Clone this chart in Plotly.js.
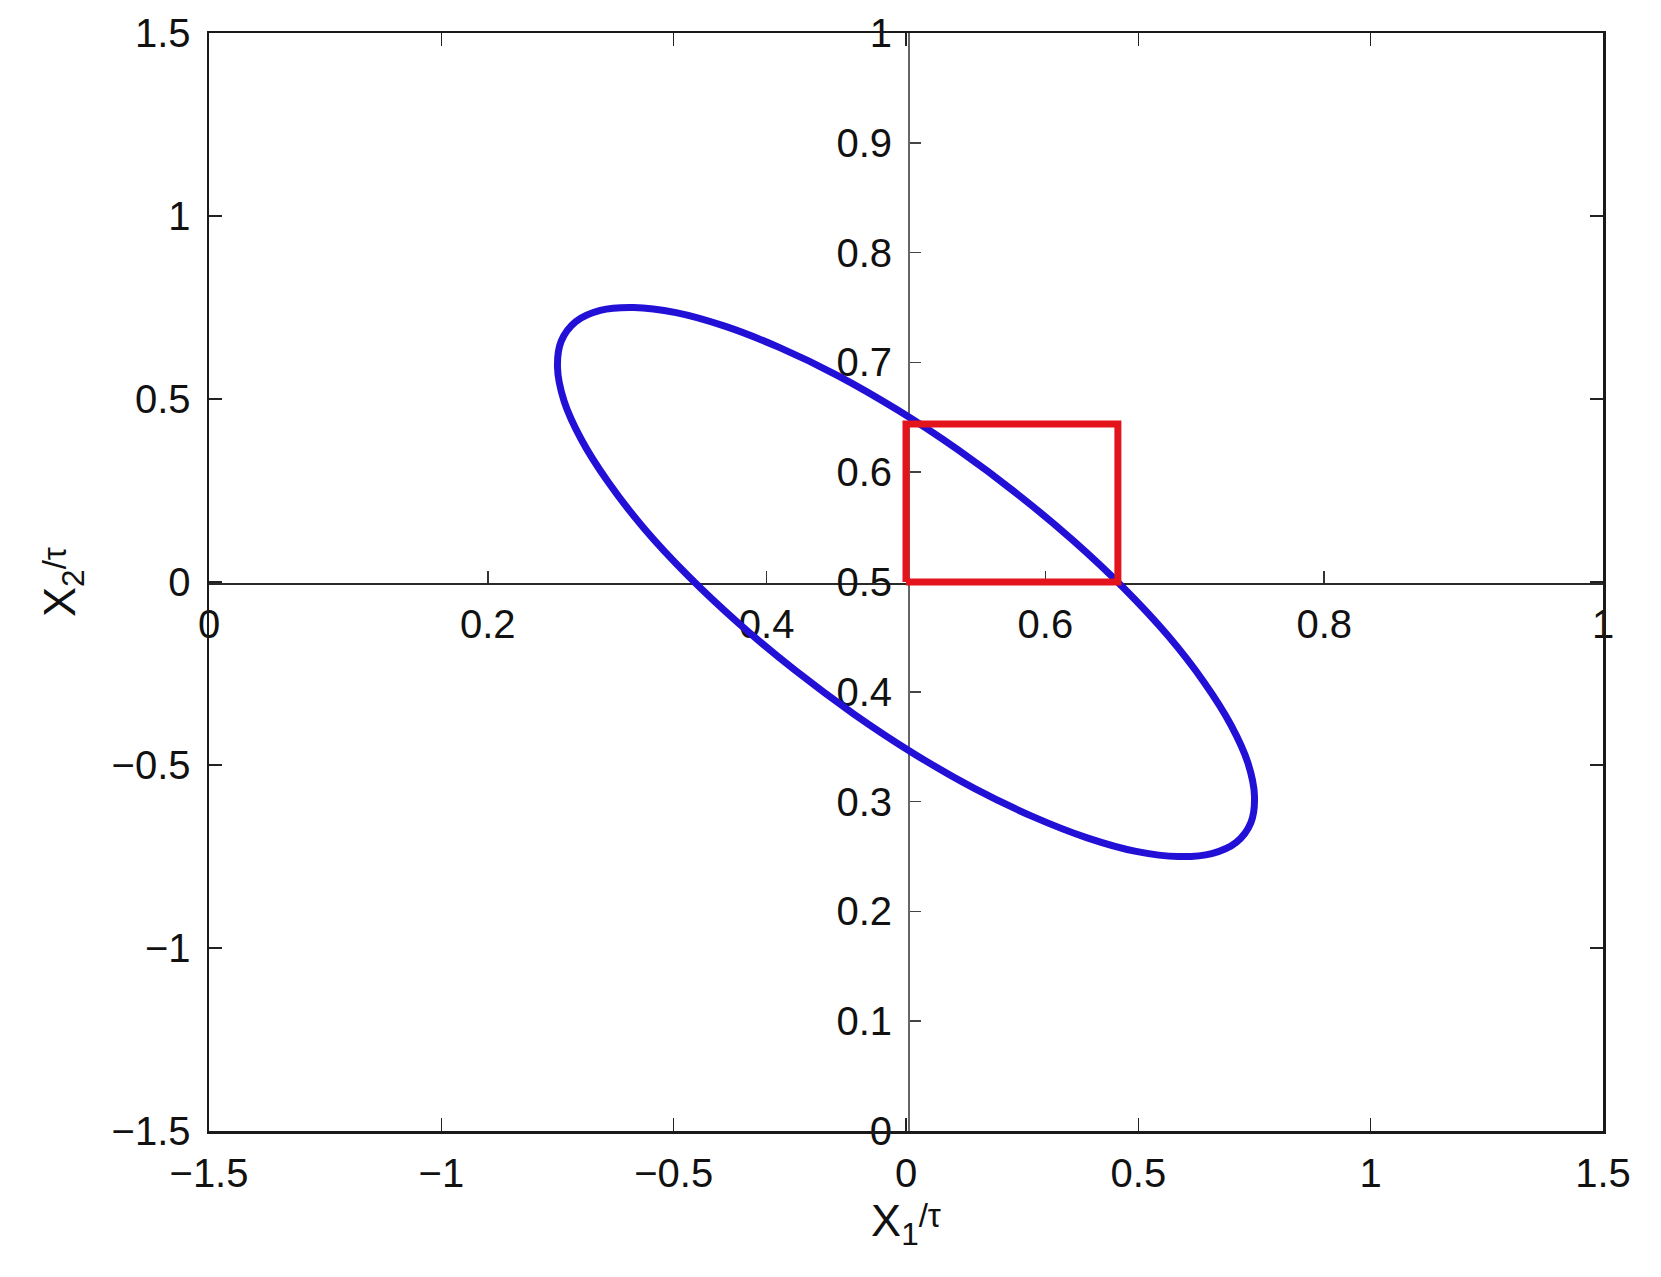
<!DOCTYPE html>
<html><head><meta charset="utf-8">
<script src="https://cdn.plot.ly/plotly-3.0.1.min.js"></script>
<style>html,body{margin:0;padding:0;background:#fff}</style>
</head><body><div id="chart" style="width:1661px;height:1277px"></div>
<script>
// Ellipse points (main axes, X1/tau vs X2/tau)
const ellipseX = [0.711, 0.742, 0.750, 0.736, 0.699, 0.641, 0.564, 0.469, 0.360, 0.240, 0.113, -0.017, -0.147, -0.273, -0.390, -0.495, -0.586, -0.658, -0.711, -0.742, -0.750, -0.736, -0.699, -0.641, -0.564, -0.469, -0.360, -0.240, -0.113, 0.017, 0.147, 0.273, 0.390, 0.495, 0.586, 0.658, 0.711];
const ellipseY = [-0.711, -0.658, -0.586, -0.495, -0.390, -0.273, -0.147, -0.017, 0.113, 0.240, 0.360, 0.469, 0.564, 0.641, 0.699, 0.736, 0.750, 0.742, 0.711, 0.658, 0.586, 0.495, 0.390, 0.273, 0.147, 0.017, -0.113, -0.240, -0.360, -0.469, -0.564, -0.641, -0.699, -0.736, -0.750, -0.742, -0.711];
// Red box corners on the inner (0..1) axes
const boxX = [0.5, 0.652, 0.652, 0.5, 0.5];
const boxY = [0.5, 0.5, 0.644, 0.644, 0.5];
// Tick values and labels
const mainTickVals = [-1.5, -1, -0.5, 0, 0.5, 1, 1.5];
const mainTickText = ["\u22121.5", "\u22121", "\u22120.5", "0", "0.5", "1", "1.5"];
const innerXTickVals = [0, 0.2, 0.4, 0.6, 0.8, 1];
const innerXTickText = ["0", "0.2", "0.4", "0.6", "0.8", "1"];
const innerYTickVals = [0, 0.1, 0.2, 0.3, 0.4, 0.5, 0.6, 0.7, 0.8, 0.9, 1];
const innerYTickText = ["0", "0.1", "0.2", "0.3", "0.4", "0.5", "0.6", "0.7", "0.8", "0.9", "1"];

const FONT = "Liberation Sans, Arial, Helvetica, sans-serif";
const tickFont = {family: FONT, size: 40, color: "#111"};
const titleFont = {family: FONT, size: 45, color: "#111"};
const tauPart = "<span style=\"font-size:33px;baseline-shift:9px\">/\u03c4</span>";

const traces = [
  {x: ellipseX, y: ellipseY, type: "scatter", mode: "lines", line: {color: "#2210d6", width: 7, shape: "spline", smoothing: 1}, xaxis: "x", yaxis: "y", hoverinfo: "skip"},
  {x: boxX, y: boxY, type: "scatter", mode: "lines", line: {color: "#e3141b", width: 7}, xaxis: "x2", yaxis: "y2", hoverinfo: "skip"}
];

const layout = {
  width: 1661, height: 1277,
  margin: {l: 209, r: 58, t: 33, b: 146},
  paper_bgcolor: "#fff", plot_bgcolor: "#fff",
  showlegend: false,
  xaxis: {
    range: [-1.5, 1.5], tickvals: mainTickVals, ticktext: mainTickText,
    ticks: "inside", ticklen: 13, tickwidth: 1.5, tickcolor: "#222",
    showline: true, linecolor: "#1a1a1a", linewidth: 2.5, mirror: "ticks",
    showgrid: false, zeroline: false, tickfont: tickFont, ticklabelstandoff: 5,
    title: {text: "X<sub>1</sub>" + tauPart, font: titleFont, standoff: 8},
    automargin: false, fixedrange: true
  },
  yaxis: {
    range: [-1.5, 1.5], tickvals: mainTickVals, ticktext: mainTickText,
    ticks: "inside", ticklen: 13, tickwidth: 1.5, tickcolor: "#222",
    showline: true, linecolor: "#1a1a1a", linewidth: 2.5, mirror: "ticks",
    showgrid: false, zeroline: false, tickfont: tickFont, ticklabelstandoff: 8,
    title: {text: "X<sub>2</sub>" + tauPart, font: titleFont, standoff: 22},
    automargin: false, fixedrange: true
  },
  xaxis2: {
    range: [0, 1], domain: [0.0016, 0.9995], anchor: "free", position: 0.4982, overlaying: "x",
    tickvals: innerXTickVals, ticktext: innerXTickText,
    ticks: "inside", ticklen: 12, tickwidth: 1.5, tickcolor: "#333",
    showline: true, linecolor: "#2a2a2a", linewidth: 2, side: "bottom",
    showgrid: false, zeroline: false, tickfont: tickFont, ticklabelstandoff: 5,
    layer: "below traces", automargin: false, fixedrange: true
  },
  yaxis2: {
    range: [0, 1], domain: [0.0109, 0.9921], anchor: "free", position: 0.5022, overlaying: "y",
    tickvals: innerYTickVals, ticktext: innerYTickText,
    ticks: "inside", ticklen: 11, tickwidth: 1.5, tickcolor: "#444",
    showline: true, linecolor: "#666", linewidth: 2, side: "left",
    showgrid: false, zeroline: false, tickfont: tickFont, ticklabelstandoff: 8,
    layer: "below traces", automargin: false, fixedrange: true
  }
};

Plotly.newPlot("chart", traces, layout, {displayModeBar: false, staticPlot: true});
</script>
</body></html>
